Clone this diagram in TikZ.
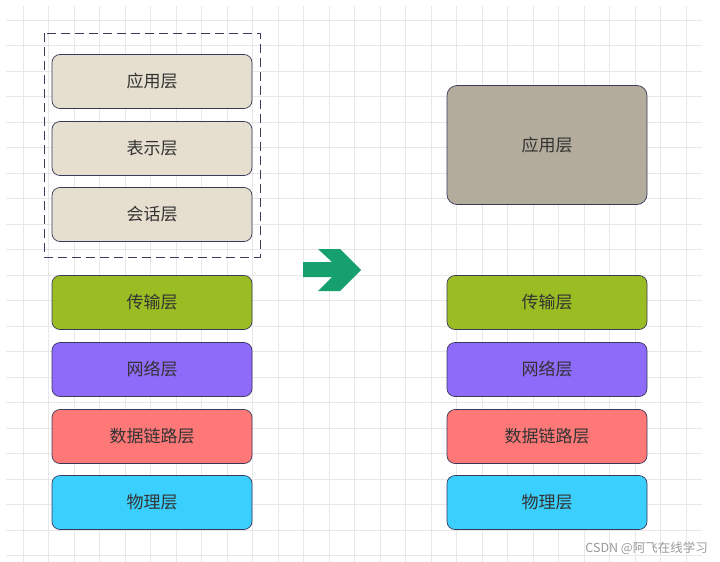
\documentclass[tikz,border=0pt]{standalone}
\usepackage{fontspec}
\usepackage{xcolor}
\usetikzlibrary{positioning}
\newfontfamily\cjk{Noto Sans CJK SC}
\definecolor{gridgray}{HTML}{E8E8E8}
\definecolor{edgeblue}{HTML}{3A3A5C}
\definecolor{sessbeige}{HTML}{E6DECF}
\definecolor{appgray}{HTML}{B3AC9C}
\definecolor{transgreen}{HTML}{9ABD23}
\definecolor{netpurple}{HTML}{8F6BFA}
\definecolor{linkred}{HTML}{FF7878}
\definecolor{physcyan}{HTML}{3ACFFC}
\definecolor{arrowgreen}{HTML}{16A06D}

\begin{document}
\begin{tikzpicture}[
  x=1pt, y=-1pt,
  layer/.style={rectangle, rounded corners=8pt, draw=edgeblue, line width=0.7pt, minimum width=200pt, minimum height=54pt, text=black!80, font=\cjk\fontsize{17}{20}\selectfont, inner sep=0pt, outer sep=0pt},
  gridline/.style={draw=gridgray, line width=0.8pt},
  node distance=13pt,
]
\useasboundingbox (0,0) rectangle (720,562);
% grid
\foreach \gx in {0,...,26}
  \draw[gridline] (23+25.5*\gx,6) -- (23+25.5*\gx,562);
\foreach \gy in {0,...,21}
  \draw[gridline] (6,20+25.5*\gy) -- (702,20+25.5*\gy);

% left stack
\node[layer, fill=sessbeige] (app) at (152,81.5) {应用层};
\node[layer, fill=sessbeige, below=of app] (pres) {表示层};
\node[layer, fill=sessbeige, below=12pt of pres] (sess) {会话层};
\node[layer, fill=transgreen, below=34pt of sess] (trans) {传输层};
\node[layer, fill=netpurple, below=of trans] (net) {网络层};
\node[layer, fill=linkred, below=of net] (link) {数据链路层};
\node[layer, fill=physcyan, below=12pt of link] (phys) {物理层};
\draw[edgeblue, line width=0.8pt, dash pattern=on 9pt off 5pt] (44,33) rectangle (260,257);

% right stack
\node[layer, fill=transgreen, right=195pt of trans] (rtrans) {传输层};
\node[layer, fill=netpurple, right=195pt of net] (rnet) {网络层};
\node[layer, fill=linkred, right=195pt of link] (rlink) {数据链路层};
\node[layer, fill=physcyan, right=195pt of phys] (rphys) {物理层};
\node[layer, fill=appgray, rounded corners=10pt, minimum height=119pt, above=71pt of rtrans] (rapp) {应用层};

% arrow
\fill[arrowgreen] (303,262) -- (332,262) -- (318,249) -- (340,249) -- (361,270)
  -- (340,291) -- (318,291) -- (332,277) -- (303,277) -- cycle;

% watermark
\node[anchor=east, text=black!40, font=\cjk\fontsize{12.5}{14}\selectfont, inner sep=0pt] (mark) at (708,548) {CSDN @阿飞在线学习};
\end{tikzpicture}
\end{document}
